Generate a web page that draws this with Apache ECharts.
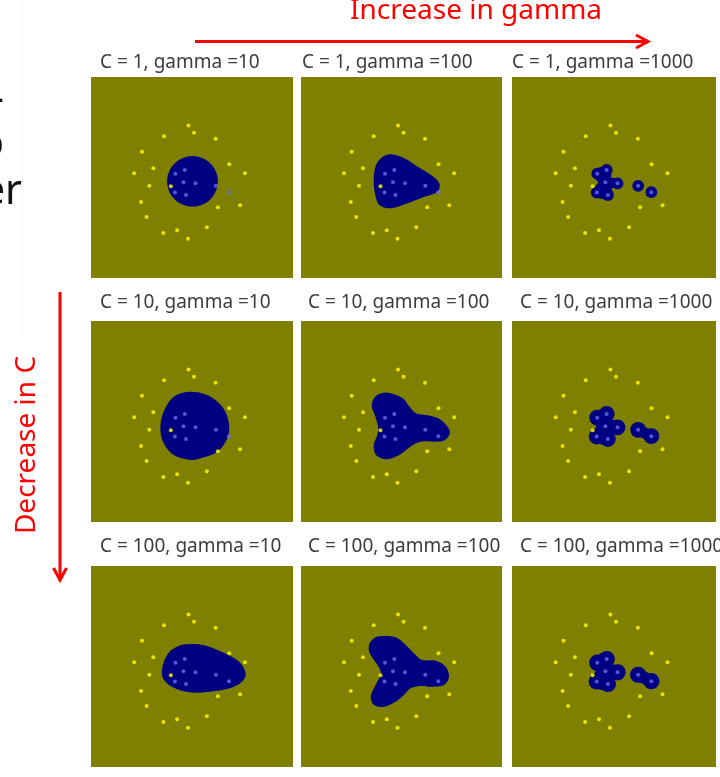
<!DOCTYPE html>
<html>
<head>
<meta charset="utf-8">
<script src="https://cdn.jsdelivr.net/npm/echarts@6/dist/echarts.min.js"></script>
<style>
  html, body { margin: 0; padding: 0; background: #fff; }
  #chart { width: 720px; height: 777px; }
</style>
</head>
<body>
<div id="chart"></div>
<script>
// all coordinates are panel pixels, 0..201, y pointing down
var cValues = [1, 10, 100]
var gammaValues = [10, 100, 1000]

var yellowPoints = [
  [97, 48.5], [102.5, 55.7], [72.7, 59.2], [124, 61.7], [50.7, 74.7],
  [137.5, 87.3], [62, 91.3], [43, 96.2], [153.2, 96.2], [58, 108.8],
  [79.5, 109.3], [49.8, 125], [148.3, 128.3], [126.2, 130.3], [55.3, 140],
  [115.3, 150.2], [85.7, 153.3], [72, 156], [96.5, 161.7]
]
var bluePoints = [
  [84, 96.7], [93.3, 93], [92, 105.2], [104, 106.3],
  [124.3, 108.8], [137.3, 115.2], [83.5, 115.5], [94.5, 118]
]

// decision region outlines for gamma 10 and 100
var regionC1G10 = [
  [126.3, 104.3], [122.9, 116.9], [113.7, 126.2], [101, 129.6], [88.4, 126.2], [79.1, 116.9],
  [75.7, 104.3], [79.1, 91.7], [88.4, 82.4], [101, 79], [113.7, 82.4], [122.9, 91.7]
]
var regionC1G100 = [
  [90, 77.3], [103.3, 81.3], [116.7, 89.7], [130, 98], [138.3, 106.3], [136.7, 114.7],
  [123.3, 119.7], [106.7, 126.3], [90, 131.3], [78.3, 128], [74, 116.3], [72.7, 103],
  [75, 88], [81.7, 79.7]
]
var regionC10G10 = [
  [97.3, 70.7], [115.7, 74], [130.7, 85.7], [137.3, 102.3], [135.7, 117.3], [125.7, 130.7],
  [109, 137.3], [99, 139], [82.3, 134], [72.3, 122.3], [69, 107.3], [72.3, 90.7], [82.3, 75.7]
]
var regionC10G100 = [
  [86.7, 71.7], [101.7, 77.3], [108, 85], [115, 92.3], [128, 94.5], [140, 99],
  [149, 110.7], [144, 119], [135, 120.7], [121, 120.5], [111.7, 124], [98.3, 134],
  [85, 138.3], [75, 134], [72.7, 124], [76, 115], [77.3, 107.3], [74.5, 96],
  [70.7, 84], [75.5, 74.5]
]
var regionC100G10 = [
  [98, 78], [114.7, 79.7], [134.7, 88], [148, 96.3], [154, 108], [149.7, 116.3],
  [138, 122.3], [118, 125.7], [98, 126.3], [81.3, 121.3], [72, 113], [70.7, 103],
  [76.3, 88], [86.3, 80.3]
]
var regionC100G100 = [
  [81.3, 70], [94.7, 71.3], [104.7, 79], [114.7, 89], [121.3, 94], [134.7, 94.7],
  [144.7, 100.7], [148, 110.7], [143, 119], [131.3, 120.7], [119.7, 120], [109.7, 122.3],
  [103, 129], [94.7, 135.7], [83, 140.7], [73, 139], [69.7, 130.7], [73, 122.3],
  [78, 112.3], [79.7, 105.7], [75.3, 97.3], [68.7, 87.3], [68, 79], [73, 72.3]
]
// gamma 1000: blue points joined into islands
var linksC1G1000 = [[0, 1], [0, 2], [1, 2], [2, 3], [2, 6], [2, 7], [6, 7]]
var linksC10G1000 = [[0, 1], [0, 2], [1, 2], [2, 3], [2, 6], [2, 7], [6, 7], [4, 5]]
var linksC100G1000 = [[0, 1], [0, 2], [1, 2], [2, 3], [2, 6], [2, 7], [6, 7], [4, 5]]

var regions = [
  [regionC1G10, regionC1G100, linksC1G1000],
  [regionC10G10, regionC10G100, linksC10G1000],
  [regionC100G10, regionC100G100, linksC100G1000]
]

var NAVY = '#000080'
var OLIVE = '#808000'
var colLeft = [91, 301, 512]
var colWidth = [202, 201, 204]
var rowTop = [77, 321, 566]
var titleX = [[100, 302, 512], [100, 308, 520], [100, 308, 520]]
var titleY = [63, 303, 547]
// island radius / bridge width / neck width for gamma 1000, per C row
var islandSize = [[5.8, 10, 8], [7.8, 13, 11], [8, 14, 12]]

var chart = echarts.init(document.getElementById('chart'))

var grids = [], xAxes = [], yAxes = [], series = [], graphics = []

cValues.forEach(function (c, ri) {
  gammaValues.forEach(function (g, ci) {
    var gi = ri * 3 + ci
    grids.push({
      left: colLeft[ci], top: rowTop[ri], width: colWidth[ci], height: 201,
      show: true, backgroundColor: OLIVE, borderWidth: 0
    })
    xAxes.push({ gridIndex: gi, type: 'value', min: 0, max: 201, show: false })
    yAxes.push({ gridIndex: gi, type: 'value', min: 0, max: 201, inverse: true, show: false })

    var reg = regions[ri][ci]
    if (ci < 2) {
      series.push({
        type: 'custom', xAxisIndex: gi, yAxisIndex: gi, silent: true, z: 1,
        data: [reg[0]],
        renderItem: function (params, api) {
          return {
            type: 'polygon',
            shape: { points: reg.map(function (p) { return api.coord(p) }), smooth: 0.34 },
            style: { fill: NAVY, stroke: null, lineWidth: 0 }
          }
        }
      })
    } else {
      var sz = islandSize[ri]
      series.push({
        type: 'custom', xAxisIndex: gi, yAxisIndex: gi, silent: true, z: 1,
        data: [bluePoints[0]],
        renderItem: function (params, api) {
          var kids = []
          reg.forEach(function (l) {
            var a = api.coord(bluePoints[l[0]]), b = api.coord(bluePoints[l[1]])
            var w = (l[0] === 4) ? sz[2] : sz[1]
            kids.push({
              type: 'line',
              shape: { x1: a[0], y1: a[1], x2: b[0], y2: b[1] },
              style: { stroke: NAVY, fill: null, lineWidth: api.size([w, 0])[0], lineCap: 'round' }
            })
          })
          bluePoints.forEach(function (p) {
            var q = api.coord(p)
            kids.push({
              type: 'circle',
              shape: { cx: q[0], cy: q[1], r: api.size([sz[0], 0])[0] },
              style: { fill: NAVY, stroke: null, lineWidth: 0 }
            })
          })
          return { type: 'group', children: kids }
        }
      })
    }
    series.push({
      type: 'scatter', xAxisIndex: gi, yAxisIndex: gi, silent: true, z: 3,
      symbolSize: 4, itemStyle: { color: '#ffff00' }, data: yellowPoints
    })
    series.push({
      type: 'scatter', xAxisIndex: gi, yAxisIndex: gi, silent: true, z: 3,
      symbolSize: 4, itemStyle: { color: '#6c6cf4' }, data: bluePoints
    })
    graphics.push({
      type: 'text', x: titleX[ri][ci], y: titleY[ri],
      style: {
        text: 'C = ' + c + ', gamma =' + g,
        font: '19px "Noto Sans"', fill: '#3c3c3c', verticalAlign: 'middle'
      }
    })
  })
})

// annotations
graphics.push(
  { type: 'line', shape: { x1: 22.5, y1: 0, x2: 22.5, y2: 337 }, style: { stroke: '#f2f2f2', lineWidth: 1 } },
  { type: 'text', x: 4, y: 121, style: { text: '-', font: '41px "Noto Sans"', fill: '#111', align: 'right', verticalAlign: 'bottom' } },
  { type: 'text', x: 4, y: 166, style: { text: 'o', font: '41px "Noto Sans"', fill: '#111', align: 'right', verticalAlign: 'bottom' } },
  { type: 'text', x: 22, y: 213, style: { text: 'er', font: '41px "Noto Sans"', fill: '#111', align: 'right', verticalAlign: 'bottom' } },
  { type: 'text', x: 476, y: 11, style: { text: 'Increase in gamma', font: '28px "Noto Sans"', fill: '#ff0000', align: 'center', verticalAlign: 'middle' } },
  { type: 'line', shape: { x1: 195, y1: 41.5, x2: 646, y2: 41.5 }, style: { stroke: '#ff0000', lineWidth: 3 } },
  { type: 'polyline', shape: { points: [[636, 35], [648, 41.5], [636, 48]] }, style: { stroke: '#ff0000', lineWidth: 3, fill: null } },
  { type: 'text', x: 27, y: 445, rotation: Math.PI / 2, style: { text: 'Decrease in C', font: '28px "Noto Sans"', fill: '#ff0000', align: 'center', verticalAlign: 'middle' } },
  { type: 'line', shape: { x1: 60, y1: 292, x2: 60, y2: 578 }, style: { stroke: '#ff0000', lineWidth: 3 } },
  { type: 'polyline', shape: { points: [[53.5, 568], [60, 580], [66.5, 568]] }, style: { stroke: '#ff0000', lineWidth: 3, fill: null } }
)

chart.setOption({
  backgroundColor: '#ffffff',
  animation: false,
  grid: grids,
  xAxis: xAxes,
  yAxis: yAxes,
  series: series,
  graphic: graphics
})
</script>
</body>
</html>
